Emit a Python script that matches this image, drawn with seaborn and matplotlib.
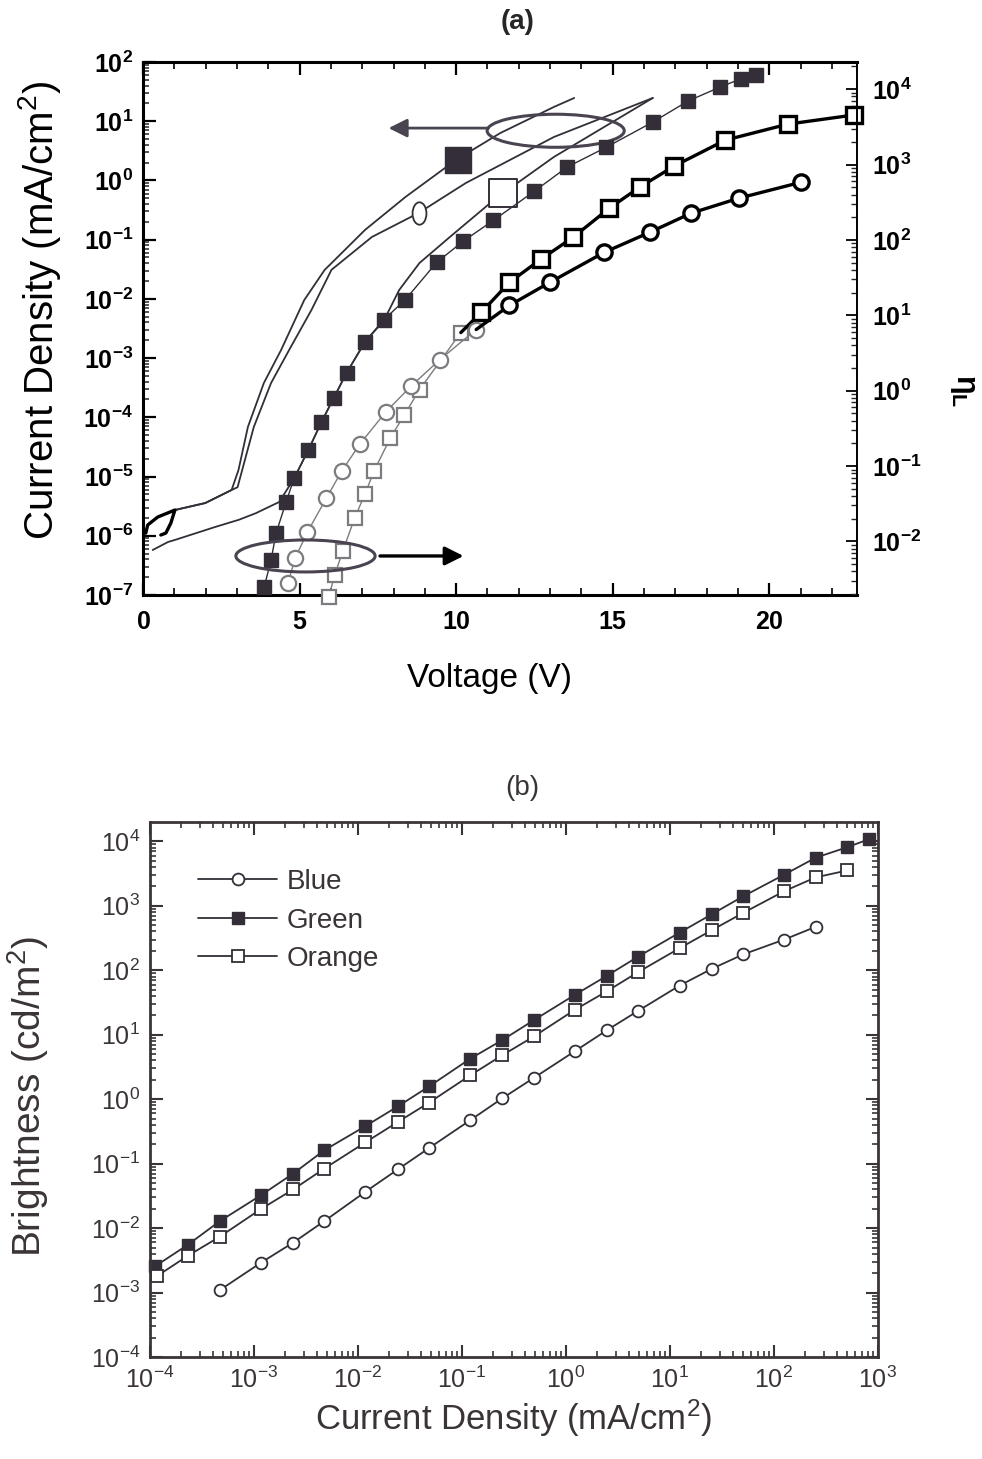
import numpy as np
import pandas as pd
import matplotlib
matplotlib.use("Agg")
import matplotlib.pyplot as plt
import seaborn as sns
from matplotlib.patches import Ellipse
from matplotlib.path import Path
from matplotlib.ticker import LogLocator, FuncFormatter, MultipleLocator, NullFormatter

# ---------------- (a) J-V curves (left axis) ----------------
green_jv_volt = [1.02, 1.99, 2.83, 3.05, 3.35, 3.86, 4.41, 5.15, 5.80, 7.09, 8.38, 9.99, 11.41, 13.12, 13.77]
green_jv_j = [2.72e-6, 3.57e-6, 5.93e-6, 1.29e-5, 6.87e-5, 3.80e-4, 1.37e-3, 9.57e-3, 3.08e-2,
              0.146, 0.525, 2.21, 6.32, 17.4, 24.7]

blue_jv_volt = [1.02, 1.99, 2.83, 3.02, 3.54, 4.09, 4.67, 5.38, 6.02, 7.31, 8.80, 10.31, 13.12, 16.28]
blue_jv_j = [2.72e-6, 3.57e-6, 5.93e-6, 6.6e-6, 6.9e-5, 3.8e-4, 1.38e-3, 6.5e-3, 3.1e-2,
             0.111, 0.282, 0.906, 5.41, 24.7]

orange_jv_volt = [0.31, 0.80, 1.02, 2.31, 3.06, 3.60, 4.35, 4.83, 5.28, 5.70, 6.09, 6.50, 7.09,
                  7.70, 8.18, 8.83, 9.80, 11.09, 11.51, 13.12, 16.28]
orange_jv_j = [5.75e-7, 7.85e-7, 8.5e-7, 1.41e-6, 1.86e-6, 2.40e-6, 3.72e-6, 9.4e-6, 2.8e-5, 8.3e-5,
               2.1e-4, 5.6e-4, 1.86e-3, 4.4e-3, 1.41e-2, 4.04e-2, 0.111, 0.416, 0.614, 2.49, 24.7]

# small hysteresis hook near 0 V
hook_volt = [0.09, 0.15, 0.47, 1.02, 0.89, 0.73, 0.57]
hook_j = [1.11e-6, 1.52e-6, 2.07e-6, 2.72e-6, 1.64e-6, 1.11e-6, 1.03e-6]

# curve identifiers sitting on the J-V curves
key_volt = [10.05, 8.80, 11.51]
key_j = [2.21, 0.282, 0.614]

# ---------------- (a) efficiency vs voltage (right axis) ----------------
green_eta_volt = [3.87, 4.09, 4.25, 4.57, 4.83, 5.28, 5.70, 6.09, 6.50, 7.09, 7.70, 8.38, 9.38, 10.22,
                  11.19, 12.5, 13.54, 14.80, 16.28, 17.41, 18.44, 19.09, 19.57]
green_eta = [2.48e-3, 5.66e-3, 1.29e-2, 3.34e-2, 6.97e-2, 0.164, 0.387, 0.807, 1.73, 4.49, 8.79, 16.2,
             50.4, 95.7, 182, 443, 923, 1700, 3660, 6970, 10700, 13700, 15500]

orange_eta_volt = [5.93, 6.12, 6.38, 6.76, 7.09, 7.38, 7.90, 8.35, 8.83, 10.15, 10.80, 11.70, 12.70,
                   13.73, 14.89, 15.86, 16.96, 18.60, 20.60, 22.70]
orange_eta = [1.82e-3, 3.57e-3, 7.45e-3, 2.05e-2, 4.27e-2, 8.63e-2, 0.237, 0.480, 1.03, 5.90, 10.9,
              27.3, 55.2, 108, 263, 500, 953, 2110, 3440, 4540]

blue_eta_volt = [4.63, 4.86, 5.25, 5.86, 6.35, 6.93, 7.76, 8.57, 9.48, 10.64, 11.70, 12.99, 14.73,
                 16.18, 17.50, 19.02, 21.02]
blue_eta = [2.80e-3, 6.01e-3, 1.33e-2, 3.78e-2, 8.63e-2, 0.197, 0.526, 1.16, 2.58, 6.47, 13.5, 27.3,
            68.4, 126, 226, 357, 583]

# ---------------- (b) brightness vs current density ----------------
green_b_j = [1.13e-4, 2.32e-4, 4.69e-4, 1.17e-3, 2.39e-3, 4.74e-3, 1.18e-2, 2.42e-2, 4.84e-2, 0.120,
             0.244, 0.494, 1.22, 2.47, 4.89, 12.4, 25.2, 50.5, 126, 252, 505, 813]
green_b_lum = [2.58e-3, 5.53e-3, 1.28e-2, 3.24e-2, 7.03e-2, 0.161, 0.382, 0.773, 1.58, 4.24, 8.24,
               16.9, 41.6, 81.8, 161, 384, 738, 1400, 3050, 5570, 8090, 10740]

orange_b_j = [1.18e-4, 2.32e-4, 4.69e-4, 1.17e-3, 2.39e-3, 4.74e-3, 1.18e-2, 2.42e-2, 4.84e-2, 0.120,
              0.244, 0.494, 1.22, 2.47, 4.89, 12.4, 25.2, 50.5, 126, 252, 505]
orange_b_lum = [1.82e-3, 3.73e-3, 7.35e-3, 1.98e-2, 3.99e-2, 8.36e-2, 0.214, 0.443, 0.885, 2.34, 4.80,
                9.44, 24.4, 47.1, 92.7, 220, 418, 774, 1690, 2760, 3530]

blue_b_j = [4.69e-4, 1.17e-3, 2.39e-3, 4.74e-3, 1.18e-2, 2.42e-2, 4.84e-2, 0.120, 0.244, 0.494,
            1.22, 2.47, 4.89, 12.4, 25.2, 50.5, 126, 252]
blue_b_lum = [1.09e-3, 2.91e-3, 5.97e-3, 1.28e-2, 3.66e-2, 8.15e-2, 0.175, 0.471, 1.03, 2.15, 5.56,
              11.7, 23.2, 57.9, 105, 176, 300, 472]

series_names = ["Blue", "Green", "Orange"]

# ---------------- style ----------------
sns.set_theme(style="ticks")
plt.rcParams['font.family'] = ['Liberation Sans', 'DejaVu Sans']
plt.rcParams['mathtext.fontset'] = 'custom'
plt.rcParams['mathtext.rm'] = 'Liberation Sans'
plt.rcParams['mathtext.bf'] = 'Liberation Sans:bold'
plt.rcParams['mathtext.it'] = 'Liberation Sans:italic'
plt.rcParams['mathtext.sf'] = 'Liberation Sans'

INK = '#332e37'
GREY = '#7c7c80'
TXT_B = '#3a3438'


def line(ax, x, y, **kw):
    df = pd.DataFrame({"x": x, "y": y})
    sns.lineplot(data=df, x="x", y="y", ax=ax, estimator=None, sort=False, **kw)


def pow_bold(v, pos):
    return r'$\mathbf{10^{%d}}$' % int(round(np.log10(v)))


def pow_reg(v, pos):
    return r'$\mathrm{10^{%d}}$' % int(round(np.log10(v)))


fig = plt.figure(figsize=(9.82, 14.59), dpi=100)

# ======================= panel (a) =======================
ax = fig.add_axes([0.1456, 0.5922, 0.7271, 0.3653])
ax.set_yscale('log')
ax.set_xlim(0, 22.8)
ax.set_ylim(1e-7, 1e2)

line(ax, green_jv_volt, green_jv_j, color=INK, lw=1.3)
line(ax, blue_jv_volt, blue_jv_j, color=INK, lw=1.3)
line(ax, orange_jv_volt, orange_jv_j, color=INK, lw=1.3)
line(ax, hook_volt, hook_j, color='black', lw=2.4)

sns.scatterplot(x=key_volt[:1], y=key_j[:1], ax=ax, marker='s', s=330, color=INK, edgecolor=INK,
                linewidth=1, zorder=5)
sns.scatterplot(x=key_volt[2:], y=key_j[2:], ax=ax, marker='s', s=380, facecolor='white',
                edgecolor=INK, linewidth=1.4, zorder=5)
ell_path = Path.unit_circle().transformed(matplotlib.transforms.Affine2D().scale(0.62, 1.0))
sns.scatterplot(x=key_volt[1:2], y=key_j[1:2], ax=ax, marker=ell_path, s=260, facecolor='white',
                edgecolor=INK, linewidth=1.3, zorder=5)

ax2 = ax.twinx()
ax2.set_yscale('log')
ax2.set_ylim(10 ** -2.71, 10 ** 4.36)

# green efficiency: filled squares
line(ax2, green_eta_volt, green_eta, color=INK, lw=1.0, marker='s', markersize=10,
     markerfacecolor=INK, markeredgecolor=INK, markeredgewidth=1.0, clip_on=False)
# orange efficiency: open squares (faint low-voltage part, bold high-voltage part)
line(ax2, orange_eta_volt[:10], orange_eta[:10], color=GREY, lw=1.0, marker='s', markersize=10,
     markerfacecolor='white', markeredgecolor=GREY, markeredgewidth=1.6, clip_on=False)
line(ax2, orange_eta_volt[9:], orange_eta[9:], color='black', lw=2.4, marker='s', markersize=11,
     markerfacecolor='white', markeredgecolor='black', markeredgewidth=2.4,
     markevery=list(range(1, len(orange_eta) - 9)), clip_on=False)
# blue efficiency: open circles
line(ax2, blue_eta_volt[:10], blue_eta[:10], color=GREY, lw=1.0, marker='o', markersize=11,
     markerfacecolor='white', markeredgecolor=GREY, markeredgewidth=1.6, clip_on=False)
line(ax2, blue_eta_volt[9:], blue_eta[9:], color='black', lw=2.4, marker='o', markersize=11,
     markerfacecolor='white', markeredgecolor='black', markeredgewidth=2.4,
     markevery=list(range(1, len(blue_eta) - 9)), clip_on=False)

# grouping ellipses with arrows pointing at the relevant axis
ax.add_patch(Ellipse((0.578, 0.871), 0.192, 0.062, transform=ax.transAxes, fill=False,
                     lw=2.2, ec='#4a4450', zorder=6))
ax.annotate('', xy=(0.344, 0.876), xytext=(0.484, 0.876), xycoords='axes fraction',
            arrowprops=dict(arrowstyle='-|>', lw=2.0, color='#4a4450', mutation_scale=28,
                            shrinkA=0, shrinkB=0))
ax2.add_patch(Ellipse((0.2276, 0.0732), 0.195, 0.060, transform=ax2.transAxes, fill=False,
                      lw=2.2, ec='#4a4450', zorder=6))
ax2.annotate('', xy=(0.449, 0.0732), xytext=(0.332, 0.0732), xycoords='axes fraction',
             arrowprops=dict(arrowstyle='-|>', lw=2.4, color='black', mutation_scale=28,
                             shrinkA=0, shrinkB=0))

# axes decoration (a)
ax.xaxis.set_major_locator(MultipleLocator(5))
ax.xaxis.set_minor_locator(MultipleLocator(1))
ax.xaxis.set_major_formatter(FuncFormatter(lambda v, p: r'$\mathbf{%d}$' % int(round(v))))
ax.yaxis.set_major_locator(LogLocator(base=10, numticks=20))
ax.yaxis.set_minor_locator(LogLocator(base=10, subs=np.arange(2, 10), numticks=20))
ax.yaxis.set_major_formatter(FuncFormatter(pow_bold))
ax.yaxis.set_minor_formatter(NullFormatter())
ax.tick_params(axis='x', which='major', direction='in', length=9, width=1.6, top=True, bottom=True,
               labelsize=18, pad=11, colors='black')
ax.tick_params(axis='x', which='minor', direction='in', length=5, width=1.4, top=True, bottom=True)
ax.tick_params(axis='y', which='major', direction='in', length=9, width=1.6, left=True, right=False,
               labelsize=18, pad=7, colors='black')
ax.tick_params(axis='y', which='minor', direction='in', length=4.5, width=1.1, left=True, right=False)

ax2.yaxis.set_major_locator(LogLocator(base=10, numticks=20))
ax2.yaxis.set_minor_locator(LogLocator(base=10, subs=np.arange(2, 10), numticks=20))
ax2.yaxis.set_major_formatter(FuncFormatter(pow_bold))
ax2.yaxis.set_minor_formatter(NullFormatter())
ax2.tick_params(axis='y', which='major', direction='in', length=8, width=1.3, labelsize=18, pad=11,
                colors='black')
ax2.tick_params(axis='y', which='minor', direction='in', length=4, width=1.0)
for sp in ['left', 'top', 'bottom']:
    ax2.spines[sp].set_visible(False)
ax2.spines['right'].set_linewidth(1.4)
ax2.spines['right'].set_color('black')
for sp in ['left', 'top', 'bottom']:
    ax.spines[sp].set_linewidth(2.2)
    ax.spines[sp].set_color('black')
ax.spines['right'].set_visible(False)

ax.set_xlabel('Voltage (V)', fontsize=24, color='black')
ax.xaxis.label.set_va('center')
ax.xaxis.set_label_coords(0.486, -0.156)
ax.set_ylabel('Current Density (mA/cm$^2$)', fontsize=29, color='black')
ax.yaxis.label.set_va('center')
ax.yaxis.set_label_coords(-0.145, 0.535)
ax2.set_ylabel(r'$\mathbf{\eta_L}$', fontsize=22, rotation=270, color='black')
ax2.yaxis.label.set_va('center')
ax2.yaxis.set_label_coords(1.148, 0.384)

fig.text(0.527, 1 - 22 / 1459, '(a)', fontsize=20, fontweight='bold', ha='center', va='center')

# ======================= panel (b) =======================
bx = fig.add_axes([0.1527, 0.0699, 0.7413, 0.3667])
bx.set_xscale('log')
bx.set_yscale('log')

line(bx, blue_b_j, blue_b_lum, color=INK, lw=1.3, marker='o', markersize=8.5,
     markerfacecolor='white', markeredgecolor=INK, markeredgewidth=1.3, label=series_names[0])
line(bx, green_b_j, green_b_lum, color=INK, lw=1.3, marker='s', markersize=8.5,
     markerfacecolor=INK, markeredgecolor=INK, markeredgewidth=1.0, label=series_names[1],
     clip_on=False)
line(bx, orange_b_j, orange_b_lum, color=INK, lw=1.3, marker='s', markersize=8.5,
     markerfacecolor='white', markeredgecolor=INK, markeredgewidth=1.3, label=series_names[2])

bx.set_xlim(1e-4, 1e3)
bx.set_ylim(1e-4, 10 ** 4.3)
for a in (bx.xaxis, bx.yaxis):
    a.set_major_locator(LogLocator(base=10, numticks=20))
    a.set_minor_locator(LogLocator(base=10, subs=np.arange(2, 10), numticks=20))
    a.set_major_formatter(FuncFormatter(pow_reg))
    a.set_minor_formatter(NullFormatter())
bx.tick_params(which='major', direction='in', length=9, width=1.5, top=True, right=True,
               labelsize=18, colors=TXT_B)
bx.tick_params(which='minor', direction='in', length=4.5, width=1.1, top=True, right=True)
bx.tick_params(axis='x', pad=7)
bx.tick_params(axis='y', pad=7)
for sp in bx.spines.values():
    sp.set_linewidth(2.0)
    sp.set_color(TXT_B)

bx.set_xlabel('Current Density (mA/cm$^2$)', fontsize=25, color=TXT_B)
bx.xaxis.label.set_va('center')
bx.xaxis.set_label_coords(0.499, -0.114)
bx.set_ylabel('Brightness (cd/m$^2$)', fontsize=28, color=TXT_B)
bx.yaxis.label.set_va('center')
bx.yaxis.set_label_coords(-0.167, 0.486)

leg = bx.legend(loc='upper left', bbox_to_anchor=(0.066, 0.912), frameon=False, fontsize=20,
                handlelength=2.85, handletextpad=0.35, labelspacing=0.45, borderpad=0,
                borderaxespad=0)
for t in leg.get_texts():
    t.set_color(TXT_B)

fig.text(0.532, 1 - 788 / 1459, '(b)', fontsize=20, ha='center', va='center', color=TXT_B)

fig.savefig('out.png', dpi=100)
